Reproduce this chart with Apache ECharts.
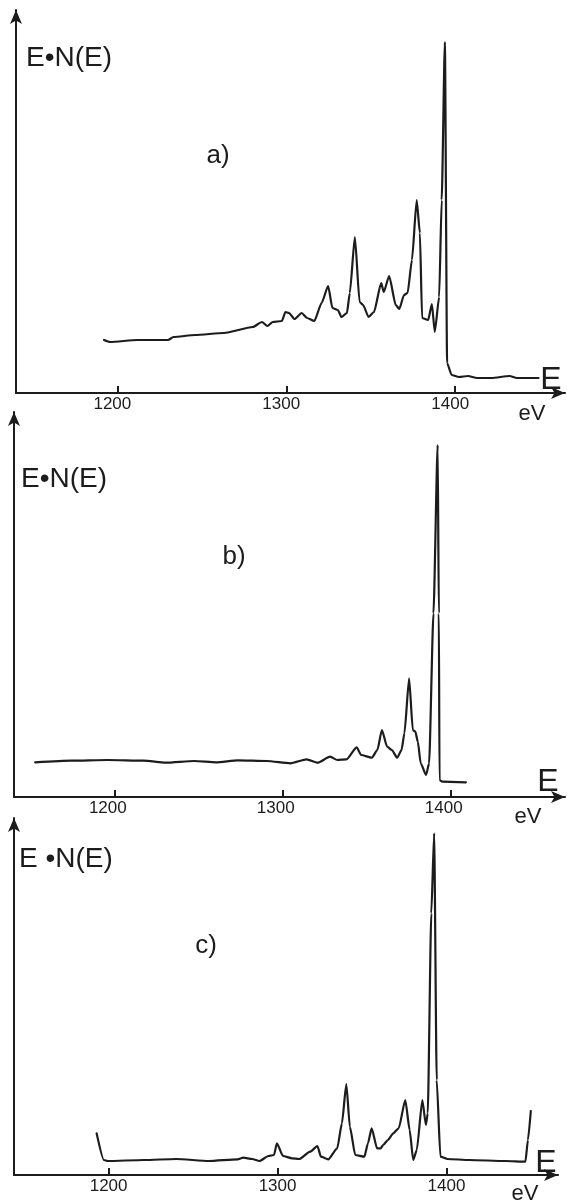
<!DOCTYPE html>
<html>
<head>
<meta charset="utf-8">
<script src="https://cdn.jsdelivr.net/npm/echarts@6/dist/echarts.min.js"></script>
<style>
    html, body { margin: 0; padding: 0; background: #ffffff; }
    #chart { width: 567px; height: 1203px; }
</style>
</head>
<body>
<div id="chart"></div>
<script>
'use strict';

// tick labels shared by the three spectra (eV)
var tickValues = [1200, 1300, 1400];

// spectrum a)
var energyA = [1192.1, 1195.7, 1211.8, 1230, 1233.2, 1246, 1263.1, 1280.2, 1285.6, 1288.8, 1292, 1297.4, 1299.5, 1301.6,
    1304.9, 1309.1, 1312.3, 1316.6, 1320.9, 1324.8, 1327.3, 1330.5, 1332.7, 1335.9, 1337.6, 1340.6, 1343.4, 1345.5,
    1348.7, 1351.9, 1356.2, 1357.7, 1360.9, 1364.8, 1366.9, 1369.7, 1371.8, 1374.4, 1377.2, 1379.1, 1380.4, 1384,
    1386.2, 1387.9, 1390.5, 1392, 1393.9, 1395.2, 1397.9, 1402.2, 1407.6, 1412.9, 1421.5, 1432.2, 1436.5, 1449.3];
var intensityA = [50, 48, 50, 50, 53, 55, 57, 63, 68, 64, 68, 69, 78, 77,
    71, 77, 72, 69, 87, 104, 82, 80, 73, 77, 97, 153, 88, 85,
    73, 78, 107, 98, 114, 85, 81, 95, 97, 130, 190, 157, 72, 70,
    86, 58, 93, 190, 348, 27, 15, 13, 14, 12, 12, 14, 12, 12];

// spectrum b)
var energyB = [1152.6, 1174.1, 1195.7, 1217.2, 1230.2, 1247.4, 1260.3, 1273.3, 1290.5, 1304.5, 1314.2, 1320.7, 1328.2,
    1332.5, 1337.9, 1344, 1346.6, 1353, 1356.3, 1359, 1362.1, 1364.9, 1368.1, 1370.7, 1372.4, 1375.2, 1377.4, 1378.9,
    1380.4, 1382.1, 1385.3, 1387.1, 1389.7, 1392.2, 1392.9, 1393.3, 1395, 1409];
var intensityB = [32.7, 34.3, 35, 34.3, 32.3, 34, 32.7, 34.7, 34, 31.7, 35.7, 32.3, 38.3,
    35, 35.7, 47.7, 40, 37.3, 45, 65, 48.3, 45, 37.3, 45, 61.7, 116.7, 65, 63.3,
    53.3, 31.7, 20, 31.7, 181.7, 350, 181.7, 15, 13.3, 12.7];

// spectrum c)
var energyC = [1192.9, 1197.2, 1199.4, 1220.8, 1240, 1259.3, 1276.4, 1279.7, 1285, 1289.3, 1294.6, 1297.9, 1299.6,
    1303.2, 1308.6, 1312.8, 1319.3, 1323.6, 1325.7, 1330, 1335.3, 1338.1, 1340.7, 1342.8, 1346, 1351.4, 1353.5, 1355.7,
    1358.9, 1361, 1362.5, 1365.3, 1368.5, 1371.7, 1375.6, 1378.2, 1380.3, 1382.4, 1385.7, 1387.8, 1388.9, 1391,
    1392.7, 1394.2, 1396.4, 1400.6, 1413.5, 1434.9, 1446.7, 1448.2, 1449.9];
var intensityC = [38.7, 12, 11, 12, 13, 11, 12.7, 14.3, 13, 11, 16, 17, 28.7,
    16, 13.7, 13, 20.3, 26, 15.3, 12.7, 23.7, 48.7, 88, 45.3, 17, 15.3, 28.7, 43.7,
    23.7, 23.7, 27, 32, 38.7, 43.7, 72, 42, 12, 22, 72, 47, 58.7, 258.7,
    338.7, 92, 15.3, 13, 12, 11, 10.3, 32, 61];

var ink = '#1c1c1c';
var fontFamily = '"Liberation Sans", "DejaVu Sans", sans-serif';

function pairs(xs, ys) {
    var out = [];
    for (var i = 0; i < xs.length; i++) {
        out.push([xs[i], ys[i]]);
    }
    return out;
}

// one panel = grid + x axis + y axis
var panels = [
    {grid: {left: 16, top: 10, width: 549, height: 383}, xMin: 1140, xMax: 1465, yMin: -3, yMax: 380, labelPad: 10, energy: energyA, intensity: intensityA},
    {grid: {left: 14, top: 412, width: 551, height: 385}, xMin: 1140, xMax: 1468, yMin: -2, yMax: 383, labelPad: 14, energy: energyB, intensity: intensityB},
    {grid: {left: 14, top: 818, width: 544, height: 357}, xMin: 1144, xMax: 1466, yMin: -3, yMax: 354, labelPad: 0, energy: energyC, intensity: intensityC}
];

var grids = [], xAxes = [], yAxes = [], series = [];

for (var p = 0; p < panels.length; p++) {
    var pn = panels[p];
    grids.push({
        left: pn.grid.left, top: pn.grid.top, width: pn.grid.width, height: pn.grid.height,
        outerBoundsMode: 'none'
    });
    xAxes.push({
        type: 'value', gridIndex: p, min: pn.xMin, max: pn.xMax,
        splitLine: {show: false},
        axisLine: {show: true, onZero: false, symbol: ['none', 'arrow'], symbolSize: [9, 14], lineStyle: {color: ink, width: 2}},
        axisTick: {show: true, inside: true, length: 7, customValues: tickValues, lineStyle: {color: ink, width: 2}},
        axisLabel: {
            show: true, customValues: tickValues, margin: 3, color: ink, fontSize: 17, fontFamily: fontFamily,
            padding: [0, pn.labelPad, 0, 0],
            formatter: function (v) { return String(v); }
        }
    });
    yAxes.push({
        type: 'value', gridIndex: p, min: pn.yMin, max: pn.yMax,
        splitLine: {show: false},
        axisLine: {show: true, onZero: false, symbol: ['none', 'arrow'], symbolSize: [9, 14], lineStyle: {color: ink, width: 2}},
        axisTick: {show: false},
        axisLabel: {show: false}
    });
    series.push({
        type: 'line', xAxisIndex: p, yAxisIndex: p,
        data: pairs(pn.energy, pn.intensity),
        showSymbol: false, smooth: 0.2, smoothMonotone: 'x', silent: true,
        lineStyle: {color: ink, width: 2.2, join: 'round', cap: 'round'}
    });
}

function label(text, x, y, size, align) {
    return {
        type: 'text', x: x, y: y, silent: true,
        style: {text: text, fill: ink, font: size + 'px ' + fontFamily, align: align || 'center', verticalAlign: 'middle'}
    };
}

var texts = [
    label('E•N(E)', 26, 58, 28, 'left'),
    label('a)', 218, 156, 26),
    label('eV', 532, 414, 22),
    label('E', 551, 380, 32),

    label('E•N(E)', 21, 479, 28, 'left'),
    label('b)', 234, 557, 26),
    label('eV', 528, 817, 22),
    label('E', 548, 782, 32),

    label('E •N(E)', 19, 859, 28, 'left'),
    label('c)', 206, 946, 26),
    label('eV', 525, 1194, 22),
    label('E', 546, 1163, 32)
];

var myChart = echarts.init(document.getElementById('chart'), null, {renderer: 'canvas'});
myChart.setOption({
    backgroundColor: '#ffffff',
    animation: false,
    grid: grids,
    xAxis: xAxes,
    yAxis: yAxes,
    series: series,
    graphic: texts
});
</script>
</body>
</html>
